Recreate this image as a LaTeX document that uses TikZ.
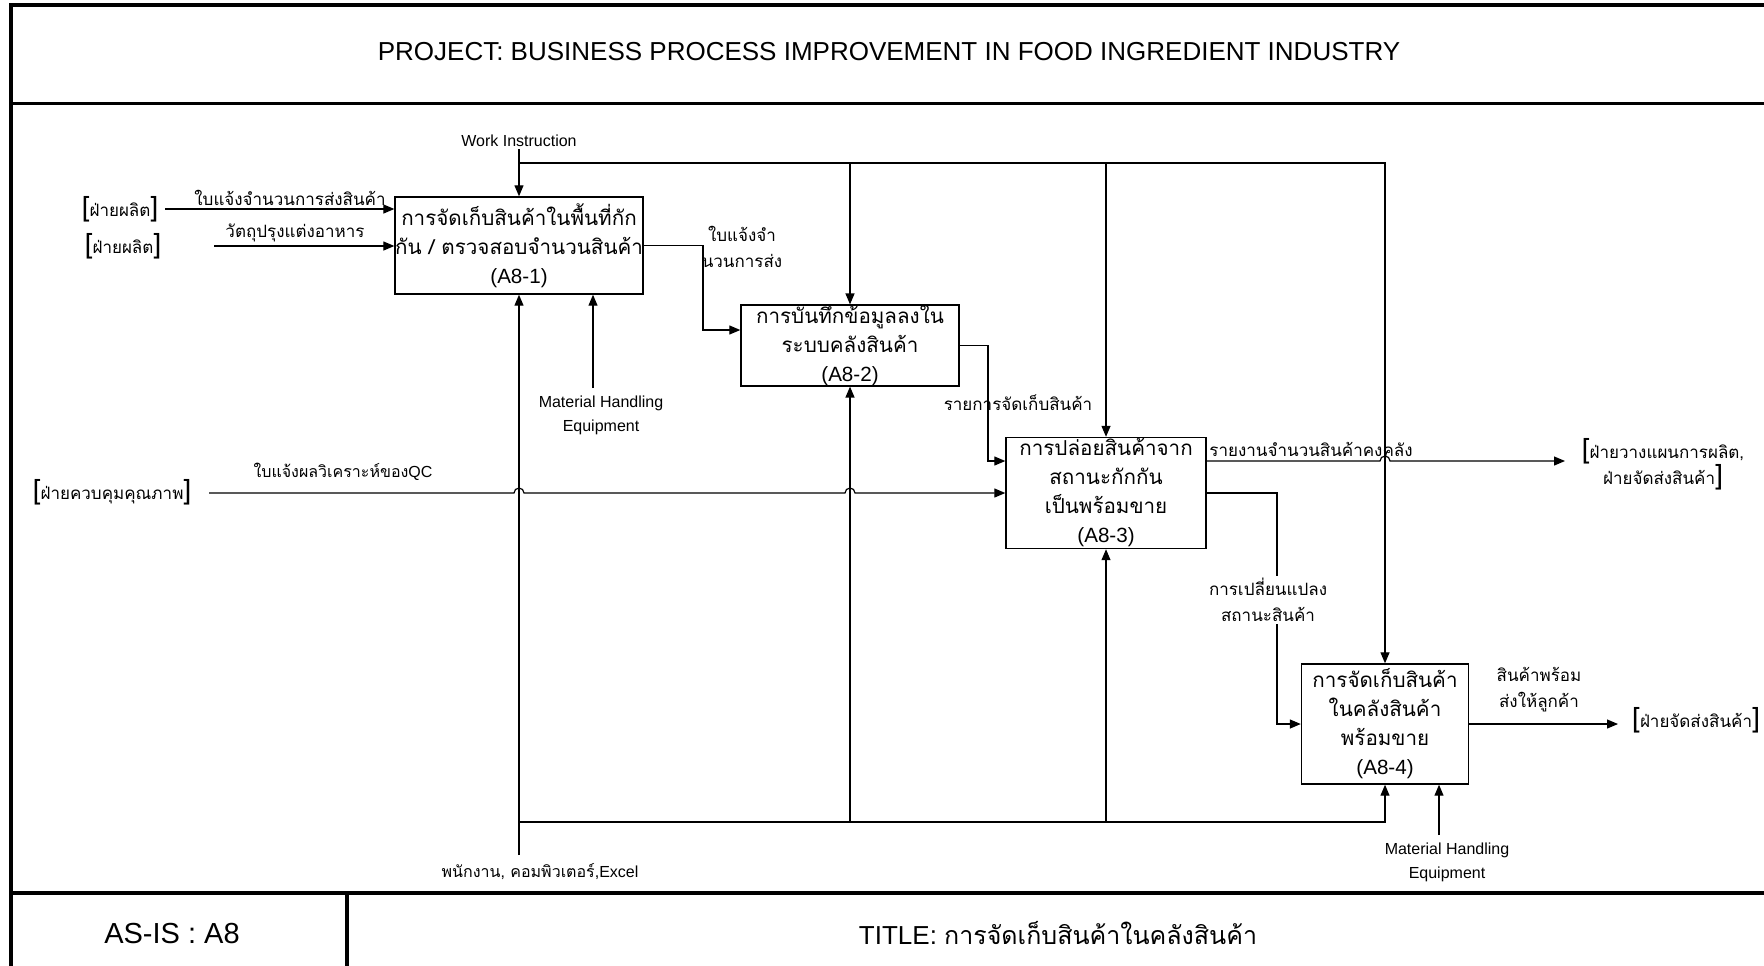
\documentclass[tikz,border=0pt]{standalone}
\usepackage{fontspec}
\setmainfont{Liberation Sans}
\newfontfamily\thai[Script=Thai]{Loma}
\usetikzlibrary{calc,arrows.meta}
\newcommand{\brL}{{\fontsize{14}{14}\selectfont[}}
\newcommand{\brR}{{\fontsize{14}{14}\selectfont]}}
\tikzset{
  proc/.style={draw, line width=0.7pt, align=center, inner sep=0pt, font=\fontsize{10.3}{14.5}\selectfont},
  flow/.style={draw, line width=0.6pt, -{Triangle[length=5.5pt,width=4.5pt]}},
  lab/.style={font=\fontsize{8}{12}\selectfont, align=center, inner sep=1pt},
  tlab/.style={font=\thai\fontsize{8.5}{13}\selectfont, align=center, inner sep=1pt},
  frame/.style={line width=1.8pt},
  big/.style={font=\fontsize{13}{15}\selectfont},
}

\begin{document}
\begin{tikzpicture}[x=0.5pt,y=-0.5pt]
  \useasboundingbox (0,0) rectangle (1764,965);
  \begin{scope}
    \clip (0,0) rectangle (1764,965);
    \draw[frame] (11,5) rectangle (1800,1000);
    \draw[frame] (11,103.5) -- (1800,103.5);
    \draw[frame] (11,893) -- (1800,893);
    \draw[frame] (347,893) -- (347,1000);
  \end{scope}

  \node[big] (proj) at (889,52) {PROJECT: BUSINESS PROCESS IMPROVEMENT IN FOOD INGREDIENT INDUSTRY};
  \node[big, font=\fontsize{14.5}{16}\selectfont] (asis) at (172,933) {AS-IS : A8};
  \node[big] (title) at (1058,933) {TITLE: {\thai\fontsize{12.5}{15}\selectfont การจัดเก็บสินค้าในคลังสินค้า}};

  \node[proc, minimum width=123pt, minimum height=48.5pt] (a1) at (519,245.5)
    {{\thai การจัดเก็บสินค้าในพื้นที่กัก}\\{\thai กัน / ตรวจสอบจำนวนสินค้า}\\(A8-1)};
  \node[proc, minimum width=109pt, minimum height=39.5pt] (a2) at (850,345.5)
    {{\thai การบันทึกข้อมูลลงใน}\\{\thai ระบบคลังสินค้า}\\(A8-2)};
  \node[proc, minimum width=100pt, minimum height=55.5pt] (a3) at (1106,493)
    {{\thai การปล่อยสินค้าจาก}\\{\thai สถานะกักกัน}\\{\thai เป็นพร้อมขาย}\\(A8-3)};
  \node[proc, minimum width=83.5pt, minimum height=60pt] (a4) at (1385,724)
    {{\thai การจัดเก็บสินค้า}\\{\thai ในคลังสินค้า}\\{\thai พร้อมขาย}\\(A8-4)};

  \node[lab] (wi) at (519,141) {Work Instruction};
  \node[lab] (mh1) at (601,415) {Material Handling\\Equipment};
  \node[lab] (mh4) at (1447,862) {Material Handling\\Equipment};
  \node[lab] (staff) at (540,872) {{\thai พนักงาน, คอมพิวเตอร์},Excel};

  \node[tlab] (prod1) at (120,209) {\brL ฝ่ายผลิต\brR};
  \node[tlab] (prod2) at (123,246) {\brL ฝ่ายผลิต\brR};
  \node[tlab] (qa) at (112,492) {\brL ฝ่ายควบคุมคุณภาพ\brR};
  \node[tlab] (plan) at (1663,464) {\brL ฝ่ายวางแผนการผลิต,\\ฝ่ายจัดส่งสินค้า\brR};
  \node[tlab] (ship) at (1696,720) {\brL ฝ่ายจัดส่งสินค้า\brR};

  \coordinate (i1) at (165,209);
  \coordinate (i2) at (214,246);
  \coordinate (qc) at (209,493);
  \coordinate (ctl) at (519,163);
  \coordinate (bus) at (519,822);
  \coordinate (m0) at (519,855);
  \coordinate (h1) at (593,388);
  \coordinate (h4) at (1439,835);
  \coordinate (k1) at (703,330);
  \coordinate (k2) at (988,461);
  \coordinate (k4) at (1565,461);
  \coordinate (k5) at (1277,724);
  \coordinate (k6) at (1618,724);

  \draw[flow] (i1) -- (i1 -| a1.west);
  \draw[flow] (i2) -- (i2 -| a1.west);
  \draw[flow] (wi.south) -- (a1.north);
  \draw[flow] (ctl) -| (a4.north);
  \draw[flow] (ctl -| a2.north) -- (a2.north);
  \draw[flow] (ctl -| a3.north) -- (a3.north);
  \draw[flow] (m0) -- (a1.south);
  \draw[flow] (bus) -| (a4.south);
  \draw[flow] (bus -| a2.south) -- (a2.south);
  \draw[flow] (bus -| a3.south) -- (a3.south);
  \draw[flow] (h1) -- (h1 |- a1.south);
  \draw[flow] (h4) -- (h4 |- a4.south);
  \draw[flow] (qc) -- ($(qc -| m0)+(-5,0)$) arc[start angle=180,end angle=0,radius=2.5pt]
    -- ($(qc -| a2.south)+(-5,0)$) arc[start angle=180,end angle=0,radius=2.5pt] -- (qc -| a3.west);
  \draw[flow] (a1.east) -| (k1) -- (k1 -| a2.west);
  \draw[flow] (a2.east) -| (k2) -- (k2 -| a3.west);
  \draw[flow] (k2 -| a3.east) -- ($(k2 -| a4.north)+(-5,0)$) arc[start angle=180,end angle=0,radius=2.5pt] -- (k4);
  \draw[flow] (a3.east) -| (k5) -- (k5 -| a4.west);
  \draw[flow] (a4.east) -- (k6);

  \node[tlab] (t1) at (290,198) {ใบแจ้งจำนวนการส่งสินค้า};
  \node[tlab] (t2) at (295,233) {วัตถุปรุงแต่งอาหาร};
  \node[tlab] (t3) at (742,246.5) {ใบแจ้งจำ\\นวนการส่ง};
  \node[tlab] (t4) at (1018,403) {รายการจัดเก็บสินค้า};
  \node[lab] (t5) at (343,472) {{\thai ใบแจ้งผลวิเคราะห์ของ}QC};
  \node[tlab] (t6) at (1311,449) {รายงานจำนวนสินค้าคงคลัง};
  \node[tlab, fill=white] (t7) at (1268,600) {การเปลี่ยนแปลง\\สถานะสินค้า};
  \node[tlab] (t8) at (1539,690) {สินค้าพร้อม\\ส่งให้ลูกค้า};
\end{tikzpicture}
\end{document}
